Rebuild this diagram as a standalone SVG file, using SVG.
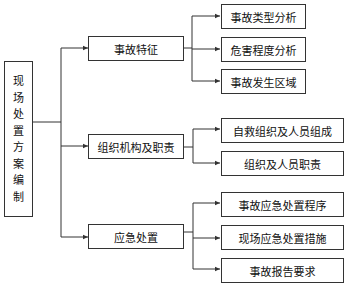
<svg xmlns="http://www.w3.org/2000/svg" width="350" height="288" viewBox="0 0 350 288">
<style>
.box{fill:#fff;stroke:#333;stroke-width:1}
.ln{fill:none;stroke:#333;stroke-width:1}
text{font-family:"Noto Sans CJK SC","Noto Sans CJK TC",sans-serif;font-size:11px;fill:#111;text-anchor:middle;dominant-baseline:central}
</style>
<defs>
<marker id="ah" markerWidth="6" markerHeight="6" refX="5" refY="3" orient="auto" markerUnits="userSpaceOnUse">
<path d="M0,0.8 L5,3 L0,5.2 Z" fill="#333"/>
</marker>
</defs>
<rect width="350" height="288" fill="#fff"/>
<g id="connectors">
<path class="ln" d="M32,122 H61 M61,48 V237"/>
<path class="ln" d="M61,48 H88" marker-end="url(#ah)"/>
<path class="ln" d="M61,146 H88" marker-end="url(#ah)"/>
<path class="ln" d="M61,237 H88" marker-end="url(#ah)"/>
<path class="ln" d="M184,48 H192 M192,16 V81"/>
<path class="ln" d="M192,16 H220" marker-end="url(#ah)"/>
<path class="ln" d="M192,49 H220" marker-end="url(#ah)"/>
<path class="ln" d="M192,81 H220" marker-end="url(#ah)"/>
<path class="ln" d="M184,147 H193 M193,129 V163"/>
<path class="ln" d="M193,129 H220" marker-end="url(#ah)"/>
<path class="ln" d="M193,163 H220" marker-end="url(#ah)"/>
<path class="ln" d="M184,232 H193 M193,203 V269"/>
<path class="ln" d="M193,203 H220" marker-end="url(#ah)"/>
<path class="ln" d="M193,238 H220" marker-end="url(#ah)"/>
<path class="ln" d="M193,269 H220" marker-end="url(#ah)"/>
</g>
<g id="root">
<rect class="box" x="4.5" y="61.5" width="28" height="155"/>
<text><tspan x="18.5" y="80">现</tspan><tspan x="18.5" y="96.5">场</tspan><tspan x="18.5" y="113">处</tspan><tspan x="18.5" y="129.5">置</tspan><tspan x="18.5" y="146">方</tspan><tspan x="18.5" y="162.5">案</tspan><tspan x="18.5" y="179">编</tspan><tspan x="18.5" y="195.5">制</tspan></text>
</g>
<g id="mid1"><rect class="box" x="88.5" y="36.5" width="95" height="24"/><text x="136" y="48.5">事故特征</text></g>
<g id="mid2"><rect class="box" x="88.5" y="134.5" width="95" height="24"/><text x="136" y="146.5">组织机构及职责</text></g>
<g id="mid3"><rect class="box" x="88.5" y="224.5" width="95" height="24"/><text x="136" y="236.5">应急处置</text></g>
<g id="leaf1"><rect class="box" x="221.5" y="4.5" width="84" height="24"/><text x="263.5" y="16.5">事故类型分析</text></g>
<g id="leaf2"><rect class="box" x="221.5" y="37.5" width="84" height="24"/><text x="263.5" y="49.5">危害程度分析</text></g>
<g id="leaf3"><rect class="box" x="221.5" y="69.5" width="84" height="24"/><text x="263.5" y="81.5">事故发生区域</text></g>
<g id="leaf4"><rect class="box" x="221.5" y="118.5" width="122" height="24"/><text x="282.5" y="130.5">自救组织及人员组成</text></g>
<g id="leaf5"><rect class="box" x="221.5" y="151.5" width="122" height="24"/><text x="282.5" y="163.5">组织及人员职责</text></g>
<g id="leaf6"><rect class="box" x="221.5" y="192.5" width="122" height="24"/><text x="282.5" y="204.5">事故应急处置程序</text></g>
<g id="leaf7"><rect class="box" x="221.5" y="225.5" width="122" height="24"/><text x="282.5" y="237.5">现场应急处置措施</text></g>
<g id="leaf8"><rect class="box" x="221.5" y="258.5" width="122" height="24"/><text x="282.5" y="270.5">事故报告要求</text></g>
</svg>
